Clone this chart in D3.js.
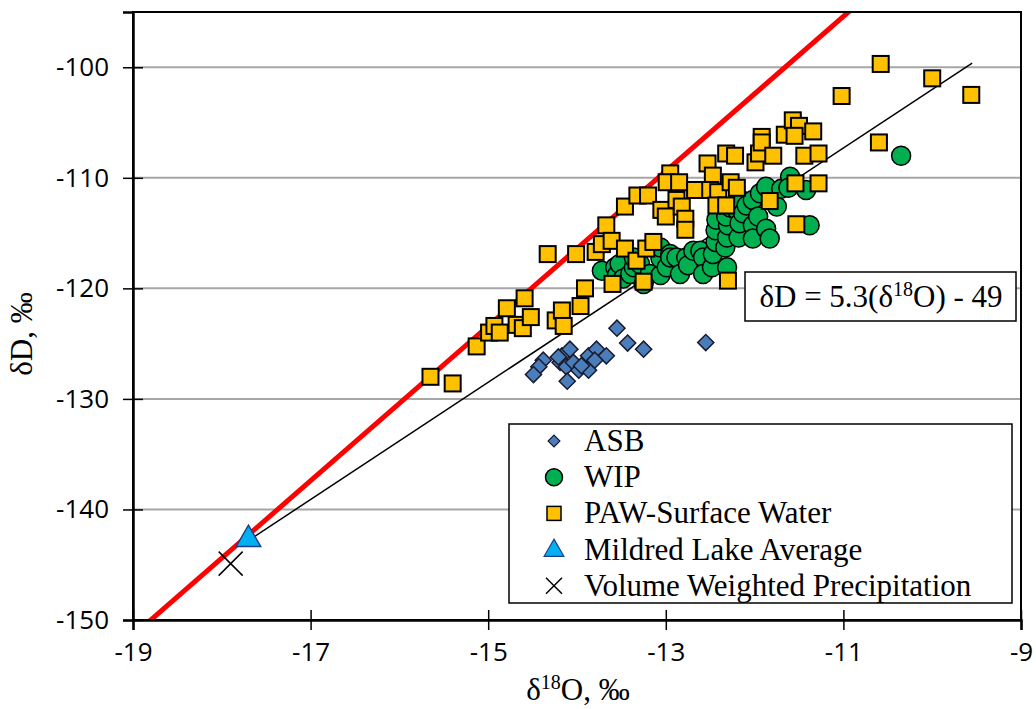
<!DOCTYPE html>
<html>
<head>
<meta charset="utf-8">
<script src="https://cdn.jsdelivr.net/npm/d3@7"></script>
<style>
  html, body { margin: 0; padding: 0; background: #fff; }
  svg { display: block; }
</style>
</head>
<body>
<svg id="chart" width="1036" height="709"></svg>
<script>
// δ18O / δD pairs for each sample group
const asb = [
  [-13.55,-123.6],[-13.43,-124.95],[-13.25,-125.5],[-12.55,-124.9],
  [-14.38,-126.5],[-14.43,-127.1],[-14.49,-127.8],[-14.17,-126.1],
  [-14.08,-125.5],[-14.19,-126.7],[-14.12,-127.1],[-14.04,-126.7],
  [-13.98,-127.4],[-14.11,-128.4],[-13.87,-126.1],[-13.78,-125.5],
  [-13.67,-126.1],[-13.87,-127.4],[-13.95,-127.0],[-13.80,-126.5],
  [-14.21,-126.2]
];
const wip = [
  [-13.72,-118.4],[-13.57,-118.1],[-13.55,-118.8],[-13.52,-117.8],[-13.48,-119.1],
  [-13.40,-118.7],[-13.36,-118.1],[-13.36,-117.2],[-13.29,-117.8],[-13.25,-119.6],
  [-13.18,-118.7],[-13.06,-118.8],[-13.06,-117.3],[-13.06,-116.3],[-12.99,-118.1],
  [-12.95,-116.9],[-12.95,-117.2],[-12.88,-117.2],[-12.84,-118.7],[-12.77,-117.2],
  [-12.75,-117.9],[-12.69,-116.6],[-12.61,-116.6],[-12.58,-117.2],[-12.58,-118.7],
  [-12.48,-118.1],[-12.47,-116.9],[-12.44,-115.8],[-12.44,-114.75],[-12.43,-113.8],
  [-12.33,-116.3],[-12.31,-118.1],[-12.31,-115.4],[-12.30,-114.3],[-12.32,-113.5],
  [-12.27,-112.7],[-12.20,-112.9],[-12.18,-115.4],[-12.17,-114.1],[-12.17,-111.9],
  [-12.13,-113.2],[-12.09,-112.5],[-12.02,-112.0],[-12.02,-114.3],[-12.02,-115.5],
  [-11.96,-113.5],[-11.94,-111.4],[-11.87,-110.8],[-11.87,-114.6],[-11.83,-115.5],
  [-11.75,-112.6],[-11.70,-111.0],[-11.60,-109.9],[-11.62,-110.9],[-11.42,-111.1],
  [-11.38,-114.3],[-10.35,-108.0]
];
const paw = [
  [-15.65,-128.0],[-15.40,-128.6],[-15.13,-125.25],[-14.99,-124.0],[-14.93,-123.4],
  [-14.87,-124.0],[-14.79,-121.8],[-14.68,-123.3],[-14.61,-123.6],[-14.59,-120.9],
  [-14.52,-122.6],[-14.33,-116.9],[-14.24,-122.9],[-14.17,-122.0],[-14.15,-123.4],
  [-14.01,-116.9],[-13.96,-121.6],[-13.91,-120.0],[-13.79,-116.7],[-13.72,-116.0],
  [-13.67,-114.3],[-13.61,-115.7],[-13.60,-119.6],[-13.46,-112.6],[-13.46,-116.4],
  [-13.32,-111.6],[-13.33,-117.5],[-13.25,-119.4],[-13.22,-116.4],[-13.20,-111.6],
  [-13.14,-115.8],[-13.05,-112.9],[-13.00,-113.5],[-12.95,-109.6],[-12.99,-110.4],
  [-12.85,-110.4],[-12.88,-112.0],[-12.82,-112.6],[-12.78,-113.7],[-12.78,-114.7],
  [-12.67,-111.1],[-12.53,-108.7],[-12.47,-109.8],[-12.50,-111.1],[-12.41,-111.3],
  [-12.43,-112.5],[-12.32,-112.5],[-12.27,-110.4],[-12.20,-110.9],[-12.32,-107.8],
  [-12.22,-108.0],[-11.99,-108.6],[-11.95,-107.8],[-11.92,-106.3],[-11.92,-106.8],
  [-11.79,-108.0],[-11.66,-106.1],[-11.57,-104.8],[-11.50,-105.3],[-11.55,-106.2],
  [-11.44,-108.0],[-11.34,-105.8],[-11.54,-110.5],[-11.83,-112.1],[-11.53,-114.2],
  [-12.30,-119.3],[-10.58,-99.7],[-10.00,-101.0],[-9.56,-102.5],[-11.02,-102.6],
  [-10.60,-106.8],[-11.28,-107.8],[-11.28,-110.5]
];
const mildredLake = [[-17.70,-142.7]];
const precipitation = [[-17.90,-144.9]];

// Water lines: local meteoric (red) and sample regression (black)
const lmwl = { slope: 7.0, intercept: -18.4 };
const fit = { slope: 5.3, intercept: -49, from: -17.7, to: -9.55 };

const xTicks = [-19, -17, -15, -13, -11, -9];
const yTicks = [-150, -140, -130, -120, -110, -100];

const legendLabels = ["ASB", "WIP", "PAW-Surface Water", "Mildred Lake Average", "Volume Weighted Precipitation"];

const svg = d3.select("#chart");
const L = 133, R = 1021, T = 12, B = 620;
const x = d3.scaleLinear().domain([-19, -9]).range([L, R]);
const y = d3.scaleLinear().domain([-150, -95]).range([B, T]);

const serif = "'Liberation Serif', 'Times New Roman', serif";
const sans = "'Open Sans', 'Noto Sans', sans-serif";
const titleSize = 31, supSize = 20, tickSize = 26;

svg.append("defs").append("clipPath").attr("id", "plotClip")
  .append("rect").attr("x", L).attr("y", T).attr("width", R - L).attr("height", B - T);

// gridlines
svg.append("g").selectAll("line").data(yTicks.filter(v => v > -150)).join("line")
  .attr("x1", L).attr("x2", R).attr("y1", d => y(d)).attr("y2", d => y(d))
  .attr("stroke", "#a6a6a6").attr("stroke-width", 2);

const plot = svg.append("g").attr("clip-path", "url(#plotClip)");

// local meteoric water line
plot.append("line")
  .attr("x1", x(-19)).attr("y1", y(lmwl.slope * -19 + lmwl.intercept))
  .attr("x2", x(-9)).attr("y2", y(lmwl.slope * -9 + lmwl.intercept))
  .attr("stroke", "#ff0000").attr("stroke-width", 5);

// regression line
plot.append("line")
  .attr("x1", x(fit.from)).attr("y1", y(fit.slope * fit.from + fit.intercept))
  .attr("x2", x(fit.to)).attr("y2", y(fit.slope * fit.to + fit.intercept))
  .attr("stroke", "#000").attr("stroke-width", 1.5);

// markers
const diamond = d3.symbol().type(d3.symbolSquare).size(130)();
plot.append("g").selectAll("path").data(asb).join("path")
  .attr("d", diamond)
  .attr("transform", d => `translate(${x(d[0])},${y(d[1])}) rotate(45)`)
  .attr("fill", "#4a7ebb").attr("stroke", "#1a1a2e").attr("stroke-width", 1.5);

plot.append("g").selectAll("circle").data(wip).join("circle")
  .attr("cx", d => x(d[0])).attr("cy", d => y(d[1])).attr("r", 9.5)
  .attr("fill", "#00b050").attr("stroke", "#000").attr("stroke-width", 1.5);

plot.append("g").selectAll("rect").data(paw).join("rect")
  .attr("x", d => x(d[0]) - 8).attr("y", d => y(d[1]) - 8)
  .attr("width", 16).attr("height", 16)
  .attr("fill", "#ffc000").attr("stroke", "#000").attr("stroke-width", 2);

const tri = d3.symbol().type(d3.symbolTriangle).size(260)();
plot.append("g").selectAll("path").data(mildredLake).join("path")
  .attr("d", tri)
  .attr("transform", d => `translate(${x(d[0])},${y(d[1])})`)
  .attr("fill", "#00b0f0").attr("stroke", "#1f3e8c").attr("stroke-width", 1.5);

plot.append("g").selectAll("path").data(precipitation).join("path")
  .attr("d", "M-12,-12L12,12M-12,12L12,-12")
  .attr("transform", d => `translate(${x(d[0])},${y(d[1])})`)
  .attr("fill", "none").attr("stroke", "#000").attr("stroke-width", 1.5);

// frame
svg.append("rect").attr("x", L).attr("y", T).attr("width", R - L).attr("height", B - T)
  .attr("fill", "none").attr("stroke", "#000").attr("stroke-width", 2);

// axes
const xAxis = svg.append("g").attr("transform", `translate(0,${B})`)
  .call(d3.axisBottom(x).tickValues(xTicks).tickFormat(d => String(d)).tickSize(10).tickPadding(13));
xAxis.select(".domain").attr("stroke-width", 2.5);
xAxis.selectAll(".tick line").attr("stroke-width", 1.5);
xAxis.selectAll(".tick").append("line").attr("y2", -10).attr("stroke", "#000").attr("stroke-width", 1.5);
xAxis.selectAll("text").attr("font-family", sans).attr("font-size", tickSize).attr("fill", "#000");

const yAxis = svg.append("g").attr("transform", `translate(${L},0)`)
  .call(d3.axisLeft(y).tickValues(yTicks).tickFormat(d => String(d)).tickSize(10).tickPadding(14));
yAxis.select(".domain").attr("stroke-width", 2.5);
yAxis.selectAll(".tick line").attr("stroke-width", 1.5);
yAxis.selectAll(".tick").append("line").attr("x2", 10).attr("stroke", "#000").attr("stroke-width", 1.5);
yAxis.selectAll("text").attr("font-family", sans).attr("font-size", tickSize).attr("fill", "#000");

// axis titles
const xt = svg.append("text").attr("x", 578).attr("y", 700).attr("text-anchor", "middle")
  .attr("font-family", serif).attr("font-size", titleSize);
xt.append("tspan").text("δ");
xt.append("tspan").attr("font-size", supSize).attr("dy", -11).text("18");
xt.append("tspan").attr("dy", 11).text("O, ‰");

svg.append("text").attr("transform", "translate(32,334) rotate(-90)").attr("text-anchor", "middle")
  .attr("font-family", serif).attr("font-size", titleSize).text("δD, ‰");

// equation label
svg.append("rect").attr("x", 745).attr("y", 272).attr("width", 271).attr("height", 49)
  .attr("fill", "#fff").attr("stroke", "#000").attr("stroke-width", 1.5);
const eq = svg.append("text").attr("x", 881).attr("y", 307).attr("text-anchor", "middle")
  .attr("font-family", serif).attr("font-size", titleSize);
eq.append("tspan").text("δD = 5.3(δ");
eq.append("tspan").attr("font-size", supSize).attr("dy", -11).text("18");
eq.append("tspan").attr("dy", 11).text("O) - 49");

// legend
const lg = svg.append("g");
lg.append("rect").attr("x", 509).attr("y", 424).attr("width", 503).attr("height", 179)
  .attr("fill", "#fff").attr("stroke", "#000").attr("stroke-width", 1.5);
const rowY = i => 441 + i * 36.2;
const mx = 554;
lg.append("path").attr("d", d3.symbol().type(d3.symbolSquare).size(70)())
  .attr("transform", `translate(${mx},${rowY(0)}) rotate(45)`)
  .attr("fill", "#4a7ebb").attr("stroke", "#1a1a2e").attr("stroke-width", 1.2);
lg.append("circle").attr("cx", mx).attr("cy", rowY(1)).attr("r", 8.5)
  .attr("fill", "#00b050").attr("stroke", "#000").attr("stroke-width", 1.5);
lg.append("rect").attr("x", mx - 7).attr("y", rowY(2) - 7).attr("width", 14).attr("height", 14)
  .attr("fill", "#ffc000").attr("stroke", "#000").attr("stroke-width", 1.5);
lg.append("path").attr("d", d3.symbol().type(d3.symbolTriangle).size(170)())
  .attr("transform", `translate(${mx},${rowY(3) + 1})`)
  .attr("fill", "#00b0f0").attr("stroke", "#1f3e8c").attr("stroke-width", 1.2);
lg.append("path").attr("d", "M-8,-8L8,8M-8,8L8,-8")
  .attr("transform", `translate(${mx},${rowY(4)})`)
  .attr("stroke", "#000").attr("stroke-width", 1.5);
lg.selectAll("text.lab").data(legendLabels).join("text").attr("class", "lab")
  .attr("x", 584).attr("y", (d, i) => rowY(i) + 10)
  .attr("font-family", serif).attr("font-size", titleSize).text(d => d);
</script>
</body>
</html>
